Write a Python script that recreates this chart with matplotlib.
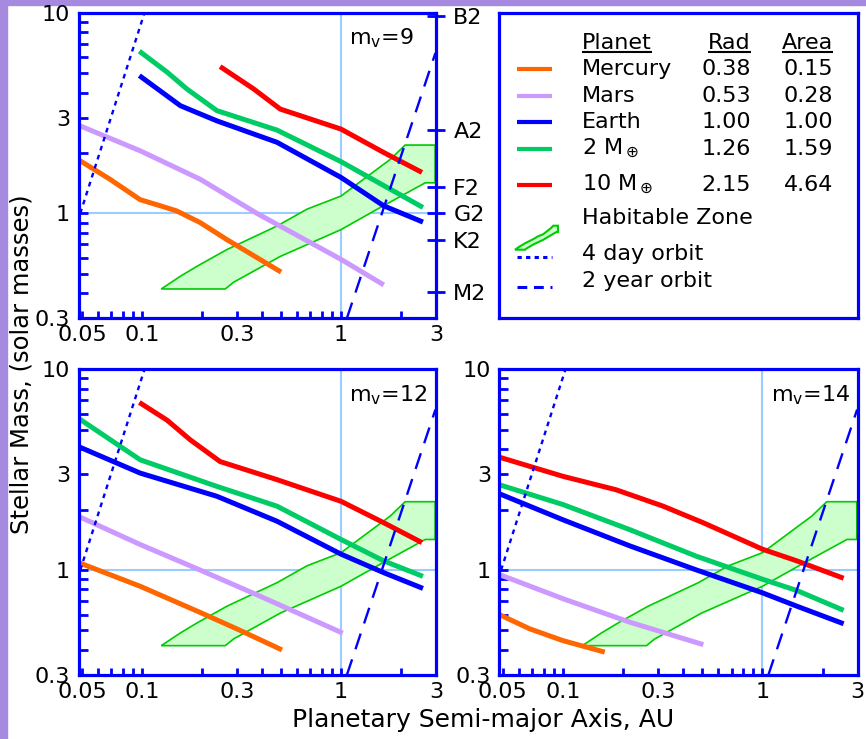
import numpy as np
import matplotlib
matplotlib.use('Agg')
import matplotlib.pyplot as plt
from matplotlib.patches import Polygon, Rectangle
from matplotlib.ticker import FixedLocator, FixedFormatter, NullFormatter, NullLocator

# semi-major axis (AU) and stellar mass (solar masses)
# panel mv=9
merc_a_9 = [0.048, 0.069, 0.098, 0.124, 0.149, 0.196, 0.267, 0.50]
merc_m_9 = [1.85, 1.48, 1.17, 1.09, 1.03, 0.90, 0.74, 0.51]
mars_a_9 = [0.048, 0.098, 0.196, 0.378, 1.0, 1.64]
mars_m_9 = [2.75, 2.05, 1.48, 1.0, 0.59, 0.44]
earth_a_9 = [0.097, 0.156, 0.238, 0.477, 1.0, 1.64, 2.58]
earth_m_9 = [4.86, 3.44, 2.89, 2.26, 1.51, 1.09, 0.905]
m2_a_9 = [0.097, 0.134, 0.168, 0.238, 0.477, 1.0, 2.58]
m2_m_9 = [6.43, 5.05, 4.17, 3.25, 2.6, 1.81, 1.07]
m10_a_9 = [0.247, 0.364, 0.495, 1.0, 1.64, 2.55]
m10_m_9 = [5.39, 4.17, 3.31, 2.63, 2.01, 1.6]

# panel mv=12
merc_a_12 = [0.048, 0.098, 0.196, 0.312, 0.505]
merc_m_12 = [1.09, 0.83, 0.615, 0.5, 0.4]
mars_a_12 = [0.048, 0.098, 0.196, 0.393, 1.02]
mars_m_12 = [1.85, 1.34, 1.0, 0.74, 0.485]
earth_a_12 = [0.048, 0.098, 0.238, 0.477, 1.0, 1.64, 2.58]
earth_m_12 = [4.12, 3.04, 2.33, 1.75, 1.2, 0.97, 0.81]
m2_a_12 = [0.048, 0.098, 0.238, 0.477, 1.0, 1.64, 2.58]
m2_m_12 = [5.7, 3.54, 2.61, 2.08, 1.42, 1.11, 0.93]
m10_a_12 = [0.097, 0.134, 0.175, 0.247, 0.477, 1.0, 1.64, 2.55]
m10_m_12 = [6.84, 5.57, 4.45, 3.47, 2.82, 2.2, 1.72, 1.37]

# panel mv=14
merc_a_14 = [0.048, 0.068, 0.1, 0.162]
merc_m_14 = [0.6, 0.51, 0.445, 0.39]
mars_a_14 = [0.048, 0.1, 0.216, 0.505]
mars_m_14 = [0.95, 0.72, 0.55, 0.425]
earth_a_14 = [0.048, 0.1, 0.216, 0.468, 1.0, 1.49, 2.55]
earth_m_14 = [2.4, 1.78, 1.32, 1.0, 0.77, 0.66, 0.54]
m2_a_14 = [0.048, 0.1, 0.216, 0.468, 1.0, 1.49, 2.55]
m2_m_14 = [2.66, 2.12, 1.59, 1.17, 0.9, 0.79, 0.63]
m10_a_14 = [0.048, 0.1, 0.185, 0.318, 0.505, 1.0, 1.49, 2.55]
m10_m_14 = [3.65, 2.93, 2.51, 2.08, 1.72, 1.27, 1.11, 0.91]

# habitable zone outline (same in every panel)
hz_a = [0.125, 0.262, 0.289, 0.495, 1.0, 1.575, 2.65, 2.97, 2.97, 2.1, 1.77, 1.0, 0.675, 0.477, 0.267, 0.189, 0.156]
hz_m = [0.42, 0.42, 0.454, 0.61, 0.83, 1.07, 1.42, 1.42, 2.19, 2.19, 1.86, 1.22, 1.05, 0.865, 0.66, 0.545, 0.486]

# orbit period lines
orb4d_a = [0.049, 0.103]
orb4d_m = [1.0, 10.0]
orb2y_a = [1.07, 2.98]
orb2y_m = [0.30, 6.3]

# spectral types on right of first panel
spec_types = ['B2', 'A2', 'F2', 'G2', 'K2', 'M2']
spec_mass = [9.6, 2.6, 1.35, 1.0, 0.74, 0.405]

# legend table
planet_names = ['Mercury', 'Mars', 'Earth', r'2 M$_\oplus$', r'10 M$_\oplus$']
planet_rad = ['0.38', '0.53', '1.00', '1.26', '2.15']
planet_area = ['0.15', '0.28', '1.00', '1.59', '4.64']

x_major = [0.05, 0.1, 0.3, 1, 3]
x_labels = ['0.05', '0.1', '0.3', '1', '3']
x_minor = [0.06, 0.07, 0.08, 0.09, 0.2, 0.4, 0.5, 0.6, 0.7, 0.8, 0.9, 2]
y_major = [0.3, 1, 3, 10]
y_labels = ['0.3', '1', '3', '10']
y_minor = [0.4, 0.5, 0.6, 0.7, 0.8, 0.9, 2, 4, 5, 6, 7, 8, 9]

colors = ['#FF6600', '#CC99FF', '#0000FF', '#00CC66', '#FF0000']
BLUE = '#0000FF'
REF = '#99CCFF'

panels = [
    ('9', [(merc_a_9, merc_m_9), (mars_a_9, mars_m_9), (earth_a_9, earth_m_9),
           (m2_a_9, m2_m_9), (m10_a_9, m10_m_9)]),
    ('12', [(merc_a_12, merc_m_12), (mars_a_12, mars_m_12), (earth_a_12, earth_m_12),
            (m2_a_12, m2_m_12), (m10_a_12, m10_m_12)]),
    ('14', [(merc_a_14, merc_m_14), (mars_a_14, mars_m_14), (earth_a_14, earth_m_14),
            (m2_a_14, m2_m_14), (m10_a_14, m10_m_14)]),
]

W, H = 866, 739
fig = plt.figure(figsize=(W / 100, H / 100), dpi=100)
fig.patch.set_facecolor('white')


def px_axes(l, t, r, b):
    return fig.add_axes([l / W, 1 - b / H, (r - l) / W, (b - t) / H])


# purple frame on left and top
fig.add_artist(Rectangle((0, 0), 7 / W, 1, transform=fig.transFigure, color='#A58ADF', zorder=0))
fig.add_artist(Rectangle((0, 1 - 5 / H), 1, 5 / H, transform=fig.transFigure, color='#A58ADF', zorder=0))

boxes = [(78.5, 12.7, 436, 318.3), (78.5, 369.3, 436, 675), (499.3, 369.3, 857.7, 675)]

for (label, curves), box in zip(panels, boxes):
    ax = px_axes(*box)
    ax.set_xscale('log')
    ax.set_yscale('log')
    ax.set_xlim(0.048, 3)
    ax.set_ylim(0.3, 10)
    for s in ax.spines.values():
        s.set_color(BLUE)
        s.set_linewidth(2.3)
        s.set_zorder(10)
    ax.xaxis.set_major_locator(FixedLocator(x_major))
    ax.xaxis.set_major_formatter(FixedFormatter(x_labels))
    ax.xaxis.set_minor_locator(FixedLocator(x_minor))
    ax.xaxis.set_minor_formatter(NullFormatter())
    ax.yaxis.set_major_locator(FixedLocator(y_major))
    ax.yaxis.set_major_formatter(FixedFormatter(y_labels))
    ax.yaxis.set_minor_locator(FixedLocator(y_minor))
    ax.yaxis.set_minor_formatter(NullFormatter())
    ax.tick_params(which='both', direction='in', color=BLUE, width=2, labelsize=16,
                   top=False, right=False)
    ax.tick_params(axis='x', which='both', length=5, pad=5)
    ax.tick_params(axis='y', which='both', length=6.5, pad=6)

    ax.axvline(1, color=REF, lw=1.5, zorder=1)
    ax.axhline(1, color=REF, lw=1.5, zorder=1)
    ax.add_patch(Polygon(np.column_stack([hz_a, hz_m]), closed=True,
                         facecolor='#CCFFCC', edgecolor='#00CC00', lw=1.2, zorder=2))
    for (a, m), c in zip(curves, colors):
        ax.plot(a, m, color=c, lw=3.6, solid_capstyle='butt', zorder=4)
    ax.plot(orb4d_a, orb4d_m, color=BLUE, lw=1.7, dashes=(2, 2), zorder=5)
    ax.plot(orb2y_a, orb2y_m, color=BLUE, lw=1.7, dashes=(7, 4.5), zorder=5)

    ax.text(0.758, 0.955, r'm$_\mathregular{v}$=' + label, transform=ax.transAxes,
            ha='left', va='top', fontsize=16)

    if label == '9':
        ax2 = ax.twinx()
        ax2.set_yscale('log')
        ax2.set_ylim(0.3, 10)
        ax2.yaxis.set_major_locator(FixedLocator(spec_mass))
        ax2.yaxis.set_major_formatter(FixedFormatter(spec_types))
        ax2.yaxis.set_minor_locator(NullLocator())
        ax2.tick_params(direction='inout', length=13, width=2, color=BLUE,
                        labelsize=16, pad=6)
        for s in ax2.spines.values():
            s.set_visible(False)

fig.text(483 / W, 1 - 720 / H, 'Planetary Semi-major Axis, AU', ha='center', va='center', fontsize=18)
fig.text(22 / W, 1 - 364 / H, 'Stellar Mass, (solar masses)', ha='center', va='center',
         rotation=90, fontsize=17.5)

# legend box, laid out in pixels from its top-left corner
lax = px_axes(499, 12.7, 858, 318.3)
lax.set_xlim(0, 359)
lax.set_ylim(305.6, 0)
lax.set_xticks([])
lax.set_yticks([])
for s in lax.spines.values():
    s.set_color(BLUE)
    s.set_linewidth(2.3)

fs = 16
heads = [lax.text(83, 36, 'Planet', ha='left', va='baseline', fontsize=fs),
         lax.text(252, 36, 'Rad', ha='right', va='baseline', fontsize=fs),
         lax.text(334, 36, 'Area', ha='right', va='baseline', fontsize=fs)]
row_base = [62, 89, 115, 142, 178]
for name, rad, area, yb, c in zip(planet_names, planet_rad, planet_area, row_base, colors):
    lax.text(83, yb, name, ha='left', va='baseline', fontsize=fs)
    lax.text(252, yb, rad, ha='right', va='baseline', fontsize=fs)
    lax.text(334, yb, area, ha='right', va='baseline', fontsize=fs)
    lax.plot([18, 53], [yb - 6, yb - 6], color=c, lw=3, solid_capstyle='butt')

lax.text(83, 211, 'Habitable Zone', ha='left', va='baseline', fontsize=fs)
lax.text(83, 247, '4 day orbit', ha='left', va='baseline', fontsize=fs)
lax.text(83, 274, '2 year orbit', ha='left', va='baseline', fontsize=fs)
lax.plot([18, 53], [244, 244], color=BLUE, lw=2.2, dashes=(1.4, 1.4))
lax.plot([18, 53], [274, 274], color=BLUE, lw=2.2, dashes=(3.2, 2.2))

# small copy of the habitable zone as its legend icon
la = np.log10(hz_a)
lm = np.log10(hz_m)
ix = 16 + (la - la.min()) / (la.max() - la.min()) * 43
iy = 237 - (lm - lm.min()) / (lm.max() - lm.min()) * 24
lax.add_patch(Polygon(np.column_stack([ix, iy]), closed=True, facecolor='#CCFFCC',
                      edgecolor='#00CC00', lw=1.5))

# underline the header words
fig.canvas.draw()
inv = lax.transData.inverted()
for t in heads:
    bb = t.get_window_extent()
    x0 = inv.transform((bb.x0, bb.y0))[0]
    x1 = inv.transform((bb.x1, bb.y0))[0]
    lax.plot([x0, x1], [39, 39], color='black', lw=1.5, solid_capstyle='butt')

fig.savefig('out.png', dpi=100)
